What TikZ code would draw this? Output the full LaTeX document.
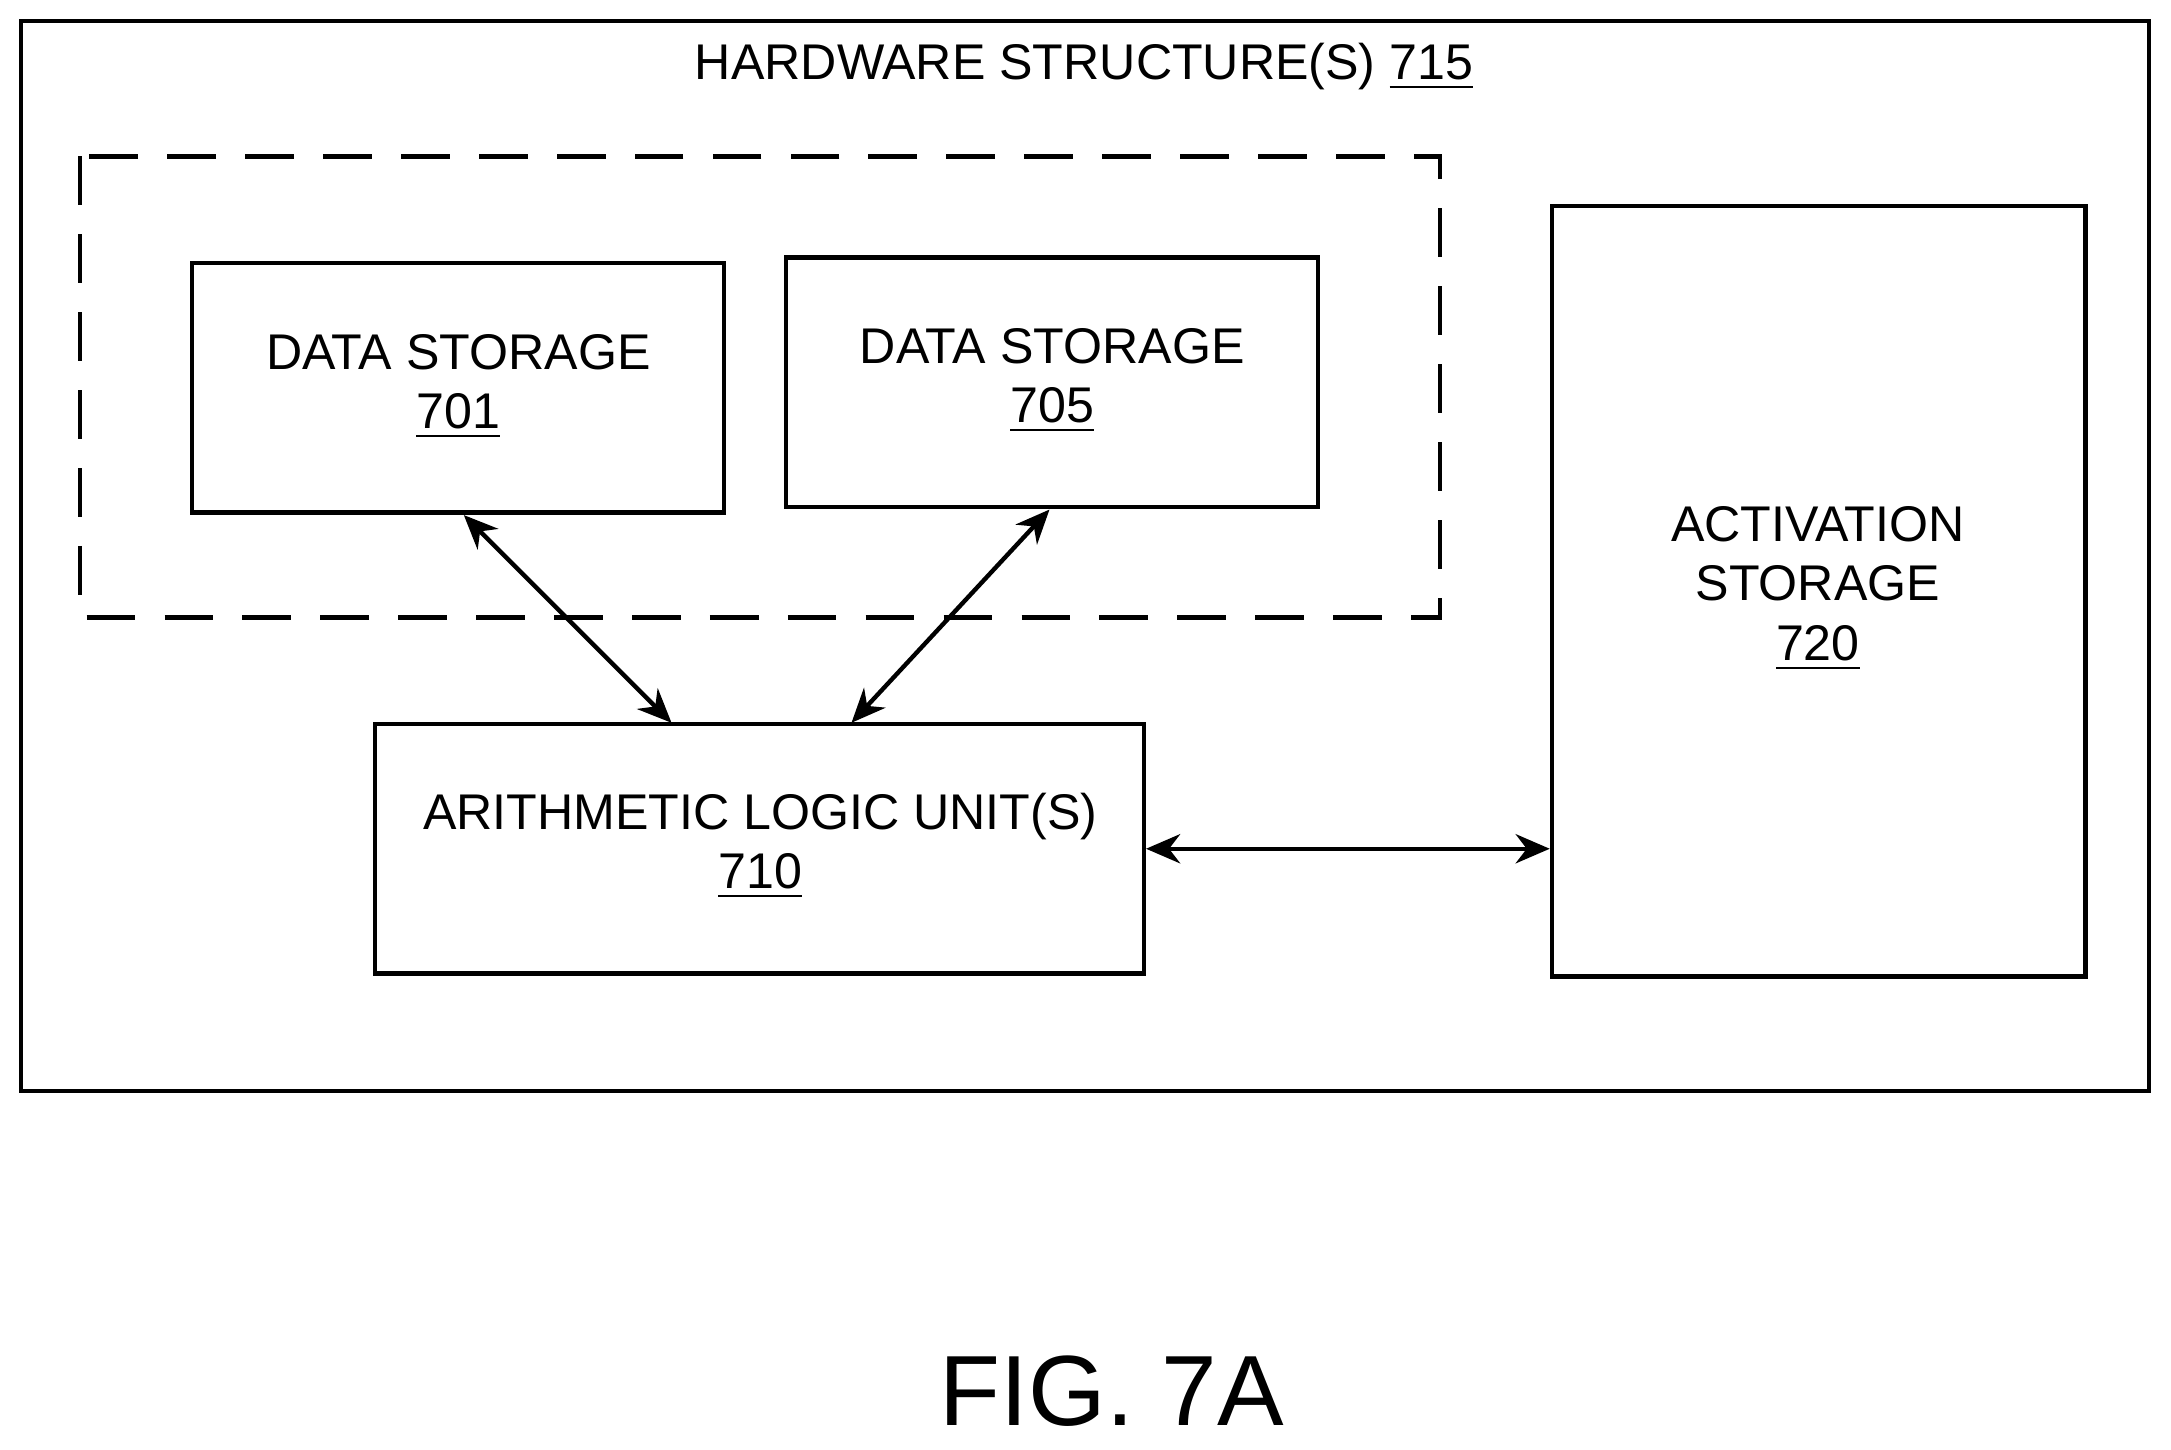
\documentclass[tikz,border=0pt]{standalone}
\usepackage{fontspec}
\setmainfont{Liberation Sans}
\usetikzlibrary{arrows.meta}
\begin{document}
\begin{tikzpicture}[x=0.01cm,y=-0.01cm,
  box/.style={draw,line width=0.9pt},
  lbl/.style={font=\fontsize{10.3}{12.2}\selectfont,align=center},
  arr/.style={line width=0.9pt,{Stealth[length=7pt,width=6pt]}-{Stealth[length=7pt,width=6pt]}}]
\useasboundingbox (0,0) rectangle (1568,1047);
\draw[box] (15,15) rectangle (1552,788);
\node[lbl] (title) at (783,48) {HARDWARE STRUCTURE(S) \underline{715}};
\draw[line width=0.9pt,dash pattern=on 10pt off 6pt] (58,113) rectangle (1040,446);
\node[box,minimum width=3.84cm,minimum height=1.8cm] (d1) at (331,280) {};
\node[lbl] at (331,279) {DATA STORAGE\\\underline{701}};
\node[box,minimum width=3.84cm,minimum height=1.8cm] (d5) at (760,276) {};
\node[lbl] at (760,275) {DATA STORAGE\\\underline{705}};
\node[box,minimum width=3.85cm,minimum height=5.56cm] (act) at (1313.5,427) {};
\node[lbl] at (1313,425) {ACTIVATION\\STORAGE\\\underline{720}};
\node[box,minimum width=5.55cm,minimum height=1.8cm] (alu) at (548.5,613) {};
\node[lbl] at (549,611) {ARITHMETIC LOGIC UNIT(S)\\\underline{710}};
\coordinate (a1) at (335,372); \coordinate (b1) at (485,522);
\coordinate (a2) at (758,368); \coordinate (b2) at (615,522);
\draw[arr] (a1) -- (b1);
\draw[arr] (a2) -- (b2);
\draw[arr] (alu.east) -- (act.west |- alu.east);
\node[font=\fontsize{20.5}{24}\selectfont] (fig) at (803,1005) {FIG. 7A};
\end{tikzpicture}
\end{document}
